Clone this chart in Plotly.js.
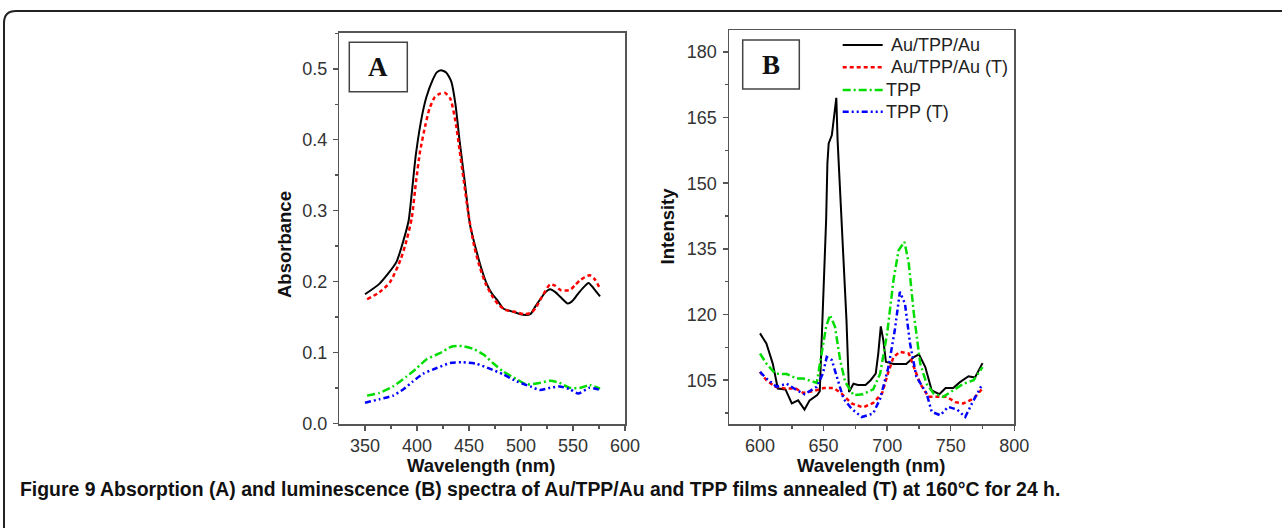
<!DOCTYPE html>
<html>
<head>
<meta charset="utf-8">
<script src="https://cdn.plot.ly/plotly-3.0.1.min.js"></script>
<style>html,body{margin:0;padding:0;background:#fff;}#chart{width:1282px;height:528px;}</style>
</head>
<body>
<div id="chart"></div>
<script>
// ---------- Panel A: absorption ----------
const aAuX  = [350,364,380,387,392,395,399,405,409,415,419,423,428,433,437,441,446,451,457,462,467,472,477,483,493,502,509,513,518,523,528,533,538,545,549,554,559,565,570,576];
const aAuY  = [0.182,0.197,0.227,0.258,0.286,0.325,0.38,0.435,0.46,0.484,0.495,0.498,0.495,0.482,0.45,0.398,0.34,0.28,0.244,0.218,0.197,0.183,0.174,0.162,0.157,0.153,0.154,0.163,0.174,0.184,0.189,0.185,0.178,0.169,0.172,0.181,0.19,0.198,0.19,0.179];
const aAuTX = [352,364,374,384,390,395,399,403,408,412,417,422,427,432,437,441,445,450,455,460,466,472,478,485,495,503,510,515,520,528,533,538,547,552,557,566,571,576];
const aAuTY = [0.175,0.185,0.199,0.23,0.258,0.29,0.34,0.384,0.42,0.444,0.46,0.465,0.466,0.458,0.426,0.385,0.342,0.29,0.25,0.222,0.197,0.18,0.168,0.16,0.157,0.154,0.156,0.165,0.178,0.196,0.194,0.188,0.188,0.195,0.202,0.209,0.203,0.19];
const aTppX = [352,364,377,390,400,409,422,433,443,454,464,473,483,496,505,515,528,537,547,557,566,576];
const aTppY = [0.039,0.043,0.052,0.066,0.078,0.09,0.099,0.108,0.109,0.105,0.097,0.085,0.073,0.062,0.055,0.056,0.06,0.057,0.05,0.05,0.054,0.049];
const aTppTX = [350,364,377,387,396,406,419,432,444,457,470,483,496,509,518,528,537,547,555,566,576];
const aTppTY = [0.029,0.034,0.039,0.048,0.059,0.07,0.078,0.085,0.086,0.084,0.077,0.069,0.059,0.052,0.047,0.05,0.052,0.048,0.042,0.05,0.047];

// ---------- Panel B: luminescence ----------
const bAuX  = [600,605,610,614,620,625,630,635,639,645,647,650,652,653,654,656.5,658,660,661,664,668,670,673.5,677,683,687,691,693,695,697,699,705,715,721,725,730,735,741,746,752,757,764,769,775];
const bAuY  = [115.7,113.4,108.8,103.1,102.9,99.7,100.4,98.3,100.4,101.6,102.5,126.3,141.6,154.6,159.1,161,164.5,169.5,159.9,141.6,118.7,102.3,104.2,103.9,103.9,105,106.5,111.1,117.3,114.1,109.2,108.7,108.7,110.3,110.9,108,102.7,101.8,103.2,103.2,104.5,105.9,105.6,108.9];
const bAuTX = [600,605,612,620,628,634,642,650,658,664,672,681,689,696,701,705,710,717,721,726,732.5,739,747,753.5,760,768,775];
const bAuTY = [106.9,105,103.5,103.1,103.1,102.1,102.5,103.2,103.2,102,99.7,98.8,99.8,102,106.9,110.3,111.5,111.1,108,104.2,101.2,101.2,101.2,100,99.7,100.8,103.1];
const bTppX = [600,605,612,621,629,634,644.6,648.6,652,655,659,663,667,673.5,681,689,694.5,700,705,709,713.6,717,721,726,731,736.5,744,752,760,768,775];
const bTppY = [111.1,108.8,106.5,106.4,105.4,105.4,104.4,111.1,117.2,119.9,117.2,109.6,104.6,101.6,101.8,102.9,106.5,115.7,127.9,134.7,136.6,131.7,120.2,108.8,104.2,102,101.2,102.7,104.2,105,108];
const bTppTX = [600,605,613,621,629,635,644.6,649.4,652.5,656.5,660.4,665.6,672,680,689,694.5,701,706,710,714,718,723,731,735,741.7,748,755,761.4,766.7,772,775];
const bTppTY = [106.9,105.4,103.5,104.2,102.7,101.8,103.5,106.5,110.3,109.6,105.8,100.8,98.5,96.6,97.4,100.8,108,116.4,125.2,122.5,113.4,105.8,102,97.8,97,98.9,98.3,96.6,99.7,102.7,104.2];

const seriesNames = ['Au/TPP/Au','Au/TPP/Au (T)','TPP','TPP (T)'];
const seriesColors = ['#000000','#ff0000','#00dd00','#0000ff'];
const seriesDash = ['solid','4px,3px','8px,3px,2px,3px','6px,3px,2px,3px,2px,3px'];
const seriesWidth = [2,2.5,2.5,2.5];

const xTitle = 'Wavelength (nm)';
const yTitleA = 'Absorbance';
const yTitleB = 'Intensity';
const caption = 'Figure 9 Absorption (A) and luminescence (B) spectra of Au/TPP/Au and TPP films annealed (T) at 160°C for 24 h.';

const W = 1282, H = 528;
const px = v => v / W;
const py = v => 1 - v / H;

const FONT = 'Liberation Sans, Arial, sans-serif';

function tr(x, y, i, xa, ya) {
  return {x: x, y: y, name: seriesNames[i], type: 'scatter', mode: 'lines',
    xaxis: xa, yaxis: ya, showlegend: false,
    line: {color: seriesColors[i], width: seriesWidth[i], dash: seriesDash[i], shape: 'spline', smoothing: 0.6}};
}
function trB(x, y, i) {
  const t = tr(x, y, i, 'x2', 'y2');
  t.line.shape = 'linear';
  return t;
}

const data = [
  tr(aAuX, aAuY, 0, 'x', 'y'), tr(aAuTX, aAuTY, 1, 'x', 'y'),
  tr(aTppX, aTppY, 2, 'x', 'y'), tr(aTppTX, aTppTY, 3, 'x', 'y'),
  trB(bAuX, bAuY, 0), trB(bAuTX, bAuTY, 1), trB(bTppX, bTppY, 2), trB(bTppTX, bTppTY, 3)
];

const axisCommon = {
  showline: true, mirror: true, linecolor: '#555', linewidth: 1.5,
  ticks: 'outside', ticklen: 5, tickwidth: 1.5, tickcolor: '#555',
  showgrid: false, zeroline: false, fixedrange: true,
  tickfont: {family: FONT, size: 18, color: '#333'}
};
const minorX = {ticks: 'outside', ticklen: 3, tickcolor: '#555', tickwidth: 1.5};

const layout = {
  width: W, height: H,
  margin: {l: 0, r: 0, t: 0, b: 0, pad: 0},
  paper_bgcolor: '#fff', plot_bgcolor: '#fff',
  showlegend: false,
  xaxis: Object.assign({}, axisCommon, {domain: [px(339.3), px(625)], range: [325.3, 600], dtick: 50, tick0: 0,
    ticklabelstandoff: 0, minor: Object.assign({dtick: 25}, minorX), anchor: 'y'}),
  yaxis: Object.assign({}, axisCommon, {domain: [py(424), py(32.7)], range: [-0.001, 0.551], dtick: 0.1, tick0: 0, tickformat: '.1f',
    ticklabelstandoff: 2, minor: Object.assign({dtick: 0.05}, minorX), anchor: 'x'}),
  xaxis2: Object.assign({}, axisCommon, {domain: [px(729), px(1014.3)], range: [575.6, 800], dtick: 50, tick0: 0,
    ticklabelstandoff: 0, minor: Object.assign({dtick: 25}, minorX), anchor: 'y2'}),
  yaxis2: Object.assign({}, axisCommon, {domain: [py(424), py(30)], range: [95, 185], dtick: 15, tick0: 0,
    ticklabelstandoff: 2, minor: Object.assign({dtick: 7.5}, minorX), anchor: 'x2'}),
  shapes: [],
  annotations: []
};

// outer frame with rounded top-left corner
layout.shapes.push({type: 'path', xref: 'paper', yref: 'paper',
  path: `M ${px(4)},${py(530)} L ${px(4)},${py(23)} Q ${px(4)},${py(11)} ${px(16)},${py(11)} L ${px(1284)},${py(11)}`,
  line: {color: '#222', width: 2}});

// panel letter boxes
layout.shapes.push({type: 'rect', xref: 'paper', yref: 'paper', x0: px(349.3), x1: px(407.3), y0: py(91.7), y1: py(42.3), line: {color: '#444', width: 1.5}});
layout.shapes.push({type: 'rect', xref: 'paper', yref: 'paper', x0: px(742.7), x1: px(799.3), y0: py(89), y1: py(40), line: {color: '#444', width: 1.5}});
layout.annotations.push({xref: 'paper', yref: 'paper', x: px(378.3), y: py(67), text: '<b>A</b>', showarrow: false, xanchor: 'center', yanchor: 'middle',
  font: {family: 'Liberation Serif, Times New Roman, serif', size: 27, color: '#111'}});
layout.annotations.push({xref: 'paper', yref: 'paper', x: px(771), y: py(64.5), text: '<b>B</b>', showarrow: false, xanchor: 'center', yanchor: 'middle',
  font: {family: 'Liberation Serif, Times New Roman, serif', size: 27, color: '#111'}});

// legend (panel B)
const legY = [45, 67.3, 90, 111.7];
const legTextX = [888.7, 888.7, 884, 884];
for (let i = 0; i < 4; i++) {
  layout.shapes.push({type: 'line', xref: 'paper', yref: 'paper', x0: px(842.7), x1: px(882.7), y0: py(legY[i]), y1: py(legY[i]),
    line: {color: seriesColors[i], width: seriesWidth[i], dash: seriesDash[i]}});
  layout.annotations.push({xref: 'paper', yref: 'paper', x: px(legTextX[i]), y: py(legY[i]), text: seriesNames[i], showarrow: false,
    xanchor: 'left', yanchor: 'middle', font: {family: FONT, size: 18, color: '#222'}});
}

// axis titles
const titleFont = {family: FONT, size: 18.5, color: '#111'};
layout.annotations.push({xref: 'paper', yref: 'paper', x: px(481), y: py(465), text: '<b>' + xTitle + '</b>', showarrow: false, xanchor: 'center', yanchor: 'middle', font: titleFont});
layout.annotations.push({xref: 'paper', yref: 'paper', x: px(871), y: py(465), text: '<b>' + xTitle + '</b>', showarrow: false, xanchor: 'center', yanchor: 'middle', font: titleFont});
layout.annotations.push({xref: 'paper', yref: 'paper', x: px(284), y: py(245), text: '<b>' + yTitleA + '</b>', showarrow: false, textangle: -90, xanchor: 'center', yanchor: 'middle', font: titleFont});
layout.annotations.push({xref: 'paper', yref: 'paper', x: px(667.5), y: py(226), text: '<b>' + yTitleB + '</b>', showarrow: false, textangle: -90, xanchor: 'center', yanchor: 'middle', font: titleFont});

// caption
layout.annotations.push({xref: 'paper', yref: 'paper', x: px(18), y: py(489), text: '<b>' + caption + '</b>', showarrow: false, xanchor: 'left', yanchor: 'middle',
  font: {family: 'Liberation Sans Narrow, Arial Narrow, Liberation Sans, sans-serif', size: 19.4, color: '#111'}});

Plotly.newPlot('chart', data, layout, {staticPlot: true, displayModeBar: false});
</script>
</body>
</html>
